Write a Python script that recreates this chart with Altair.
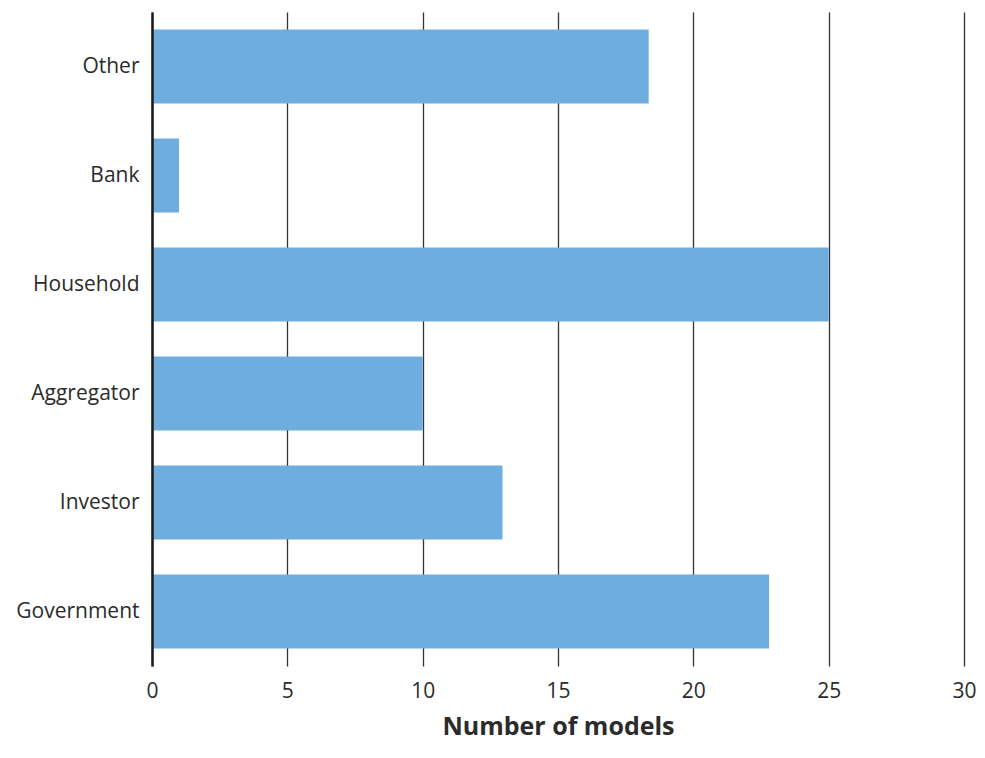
import altair as alt
import pandas as pd

categories = ["Other", "Bank", "Household", "Aggregator", "Investor", "Government"]
values = [18.35, 1.0, 25.0, 10.0, 12.95, 22.8]

df = pd.DataFrame({"category": categories, "models": values})

FONT = "Open Sans"

chart = alt.Chart(df).mark_bar(color="#6FADDE").encode(
    x=alt.X("models:Q", title="Number of models",
            scale=alt.Scale(domain=[0, 30], nice=False, zero=True),
            axis=alt.Axis(values=[0, 5, 10, 15, 20, 25, 30], grid=True, gridColor="#333333",
                          gridWidth=1.3, gridOpacity=1, domain=False, ticks=False,
                          labelFlush=False,
                          labelFontSize=21, labelColor="#2b2b2b", labelPadding=14,
                          labelFont=FONT, titleFont=FONT, titleFontSize=25,
                          titleFontWeight="bold", titleColor="#2b2b2b", titlePadding=13)),
    y=alt.Y("category:N", sort=categories, title=None,
            scale=alt.Scale(paddingInner=0.32, paddingOuter=0.16),
            axis=alt.Axis(domain=True, domainColor="#1a1a1a", domainWidth=2.5, ticks=False,
                          zindex=1,
                          labelFontSize=21, labelColor="#2b2b2b", labelPadding=13,
                          labelFont=FONT, minExtent=144, maxExtent=144)),
).properties(
    width=812, height=654,
    padding={"left": 0, "top": 4, "right": 0, "bottom": 6},
).configure_view(stroke=None)

chart.save("out.html", embed_options={"renderer": "svg", "actions": False})
